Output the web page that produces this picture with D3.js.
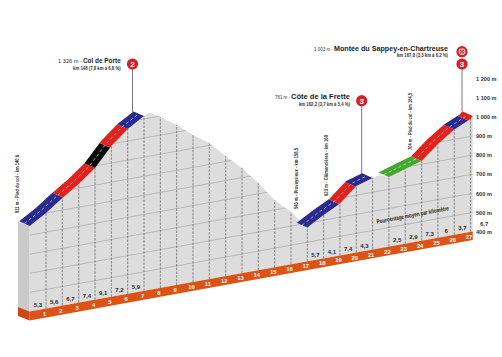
<!DOCTYPE html>
<html><head><meta charset="utf-8">
<script src="https://cdn.jsdelivr.net/npm/d3@7/dist/d3.min.js"></script>
<style>html,body{margin:0;padding:0;background:#fff}svg{display:block}text{font-family:"Liberation Sans",Arial,sans-serif}.nw{font-family:"Liberation Sans Narrow","Liberation Sans",Arial,sans-serif}</style>
</head><body><div id="c"></div>
<script>
// Values
const profileKm  = [0,1,2,3,4,5,6,7,7.3,8,9,10,11,12,13,14,15,16,17,18,19,20,21,21.4,22,23,24,25,26,27,27.13];
const profileEle = [848,900,963,1021,1090,1189,1263,1315,1329,1295,1238,1170,1112,1028,951,856,752,674,577,627,672,748,775,784,764,791,817,891,951,991,1005];
const elevationTicks = [400,500,600,700,800,900,1000,1100,1200];
const gridElevations = [500,600,700,800,900,1000,1100,1200,1300];
const kmLabels = d3.range(1,28);
const gradKm = [0.5,1.5,2.5,3.5,4.5,5.5,6.5,17.5,18.5,19.5,20.5,22.5,23.5,24.5,25.5,26.5];
const gradLabels = ["5,3","5,6","6,7","7,4","9,1","7,2","5,9","5,7","4,1","7,4","4,3","2,5","2,9","7,3","6","3,7"];
const segStart = [0,2.04,4,4.93,6,17,18.96,19.96,22,24,26,26.85];
const segEnd   = [2.04,4,4.93,6,7,18.96,19.96,21,24,26,26.85,27.13];
const segType  = ["blue","red","black","red","blue","blue","red","blue","green","red","blue","red"];
const climbNames = ["Col de Porte","Côte de la Frette","Montée du Sappey-en-Chartreuse"];
const climbAlt   = ["1 326 m - ","761 m - ","1 003 m - "];
const climbInfo  = ["km 148 (7,8 km à 6,8 %)","km 162,2 (3,7 km à 5,4 %)","km 167,8 (3,3 km à 6,2 %)"];
const climbCat   = ["2","3","3"];
const sideLabels = ["811 m - Pied du col - km 140,6","543 m - Proveysieux - km 158,5","623 m - Clémencières - km 160","704 m - Pied du col - km 164,5"];

const W=502,H=357;
const colors={blue:"#2b2a8e",red:"#e3211c",black:"#0a0a0a",green:"#46a72e"};
const x=d3.scaleLinear().domain([0,27]).range([29.7,470.6]);
const base=d3.scaleLinear().domain([0,27]).range([311.5,231.85]);
const h=d3.scaleLinear().domain([400,1300]).range([0,171.9]);
const py=(k,z)=>base(k)-h(z);
const eleAt=d3.scaleLinear().domain(profileKm).range(profileEle);
const svg=d3.select("#c").append("svg").attr("width",W).attr("height",H);
const defs=svg.append("defs");
const offX=-10.5,offY=-4.7;
const nearPts=profileKm.map((k,i)=>[x(k),py(k,profileEle[i])]);
const line=d3.line();
const endK=27.13;

// left wall
svg.append("path").attr("fill","#c9cac9")
  .attr("d",line([[x(0)-11.7,py(0,profileEle[0])-4.2],[x(0),py(0,profileEle[0])],[x(0),base(0)],[x(0)-11.7,base(0)-4.5]])+"Z");
// surface
const area=[[x(0),base(0)],...nearPts,[x(endK),base(endK)]];
svg.append("path").attr("fill","#dcdddc").attr("d",line(area)+"Z");
defs.append("clipPath").attr("id","surf").append("path").attr("d",line(area)+"Z");
// elevation grid
svg.append("g").attr("clip-path","url(#surf)").selectAll("line").data(gridElevations).join("line")
  .attr("x1",x(0)).attr("x2",x(endK)).attr("y1",d=>py(0,d)).attr("y2",d=>py(endK,d))
  .attr("stroke","#a9aaa9").attr("stroke-width",0.7);
// km dashes
svg.append("g").selectAll("line").data(kmLabels).join("line")
  .attr("x1",d=>x(d)).attr("x2",d=>x(d)).attr("y1",d=>base(d)).attr("y2",d=>py(d,eleAt(d)))
  .attr("stroke","#6d6e6d").attr("stroke-width",0.8).attr("stroke-dasharray","2.5,1.2");
// base band
svg.append("path").attr("fill","#c9471a")
  .attr("d",line([[x(0)-11.7,base(0)-4.5],[x(0),base(0)],[x(0),base(0)+9],[x(0)-11.7,base(0)+4.5]])+"Z");
svg.append("path").attr("fill","#dc5316")
  .attr("d",line([[x(0),base(0)],[x(endK),base(endK)],[x(endK),base(endK)+8.5],[x(0),base(0)+9]])+"Z");
svg.append("g").selectAll("text").data(kmLabels).join("text")
  .attr("x",d=>x(d)-1.5).attr("y",d=>base(d)+7).attr("text-anchor","middle")
  .attr("font-size",5.8).attr("font-weight","bold").attr("fill","#fff").text(d=>d);
// coloured ribbon
const segData=segStart.map((s,i)=>({s,e:segEnd[i],c:colors[segType[i]]}));
const nearOf=d=>{
  const ks=[d.s,...profileKm.filter(k=>k>d.s&&k<d.e),d.e];
  return ks.map(k=>[x(k),py(k,eleAt(k))]);
};
const ribbon=svg.append("g");
segData.forEach(d=>{
  const n=nearOf(d);
  const f=n.map(p=>[p[0]+offX,p[1]+offY]).reverse();
  ribbon.append("path").attr("fill",d.c).attr("d",line([...n,...f])+"Z");
});
[[0,7],[17,21],[22,27.13]].forEach(([s,e])=>{
  const n=nearOf({s,e}).map(p=>[p[0]+offX/2,p[1]+offY/2]);
  ribbon.append("path").attr("fill","none").attr("stroke","#fff").attr("stroke-width",0.6)
    .attr("stroke-dasharray","3,2.5").attr("d",line(n));
});
// gradients
svg.append("g").selectAll("text").data(gradKm).join("text")
  .attr("x",d=>x(d)).attr("y",d=>base(d)-3)
  .attr("text-anchor","middle").attr("font-size",6).attr("font-weight","bold").attr("fill","#2a2a2a").attr("class","nw")
  .text((d,i)=>gradLabels[i]);
svg.append("text").attr("transform","translate(413,217) rotate(-10.6)").attr("text-anchor","middle").attr("class","nw")
  .attr("font-size",6.2).attr("font-weight","bold").attr("fill","#222")
  .attr("textLength",73).attr("lengthAdjust","spacingAndGlyphs").text("Pourcentage moyen par kilomètre");
// right axis
const yAxis=d3.scaleLinear().domain([400,1300]).range([py(endK,400),py(endK,1300)]);
const ax=svg.append("g").attr("transform","translate(476,0)")
  .call(d3.axisRight(yAxis).tickValues(elevationTicks).tickSize(0).tickPadding(0)
    .tickFormat(d=>d3.format(",")(d).replace(","," ")+" m"));
ax.select(".domain").remove();
ax.selectAll("text").attr("font-size",5.6).attr("font-family",'"Liberation Sans",Arial,sans-serif').attr("fill","#333").attr("font-weight","bold");
svg.append("text").attr("x",480).attr("y",225.5).attr("font-size",6).attr("font-weight","bold").attr("fill","#333")
  .attr("text-anchor","start").attr("class","nw").text("6,7");
// stems and category markers
const stemX=[132.5,361.7,462], stemY=[64,100.7,64], stemTop=[112,174,111];
stemX.forEach((sx,i)=>{
  svg.append("line").attr("x1",sx).attr("x2",sx).attr("y1",stemY[i]).attr("y2",stemTop[i])
    .attr("stroke","#777").attr("stroke-width",1);
  svg.append("circle").attr("cx",sx).attr("cy",stemY[i]).attr("r",5.6).attr("fill","#d81f26");
  svg.append("text").attr("x",sx).attr("y",stemY[i]+2.9).attr("text-anchor","middle")
    .attr("font-size",8).attr("font-weight","bold").attr("fill","#fff").text(climbCat[i]);
});
// finish marker
svg.append("circle").attr("cx",462).attr("cy",51.7).attr("r",5.6).attr("fill","#d81f26");
svg.append("circle").attr("cx",462).attr("cy",51.7).attr("r",3.4).attr("fill","#f1b9b9");
[[-1.2,-1.2],[1.2,-1.2],[-1.2,1.2],[1.2,1.2],[0,0]].forEach(p=>svg.append("rect")
  .attr("x",462+p[0]-.7).attr("y",51.7+p[1]-.7).attr("width",1.4).attr("height",1.4).attr("fill","#d81f26"));
// climb labels
const labelBox=[
 {ax:58,bx:83,be:120.7,by:62.7,ix:73,iy:70.2},
 {ax:275,bx:291,be:350,by:99,ix:299,iy:105.7},
 {ax:314,bx:334,be:448,by:51,ix:397,iy:57.3}];
labelBox.forEach((b,i)=>{
  svg.append("text").attr("x",b.ax).attr("y",b.by).attr("font-size",5).attr("fill","#333").attr("class","nw")
    .attr("textLength",b.bx-b.ax-1).attr("lengthAdjust","spacingAndGlyphs").text(climbAlt[i]);
  svg.append("text").attr("x",b.bx).attr("y",b.by).attr("font-size",7.2).attr("font-weight","bold").attr("fill","#1c1c1c")
    .attr("textLength",b.be-b.bx).attr("lengthAdjust","spacingAndGlyphs").text(climbNames[i]);
  svg.append("text").attr("x",b.ix).attr("y",b.iy).attr("font-size",5.2).attr("font-weight","bold").attr("fill","#333").attr("class","nw")
    .attr("textLength",b.be-b.ix).attr("lengthAdjust","spacingAndGlyphs").text(climbInfo[i]);
});
// vertical side labels
[[18.5,213,58],[298,209,61],[327.7,196,61],[412,150,57]].forEach((p,i)=>{
  svg.append("text").attr("transform",`translate(${p[0]},${p[1]}) rotate(-90)`).attr("class","nw")
    .attr("font-size",5.6).attr("font-weight","bold").attr("fill","#333")
    .attr("textLength",p[2]).attr("lengthAdjust","spacingAndGlyphs").text(sideLabels[i]);
});
</script></body></html>
